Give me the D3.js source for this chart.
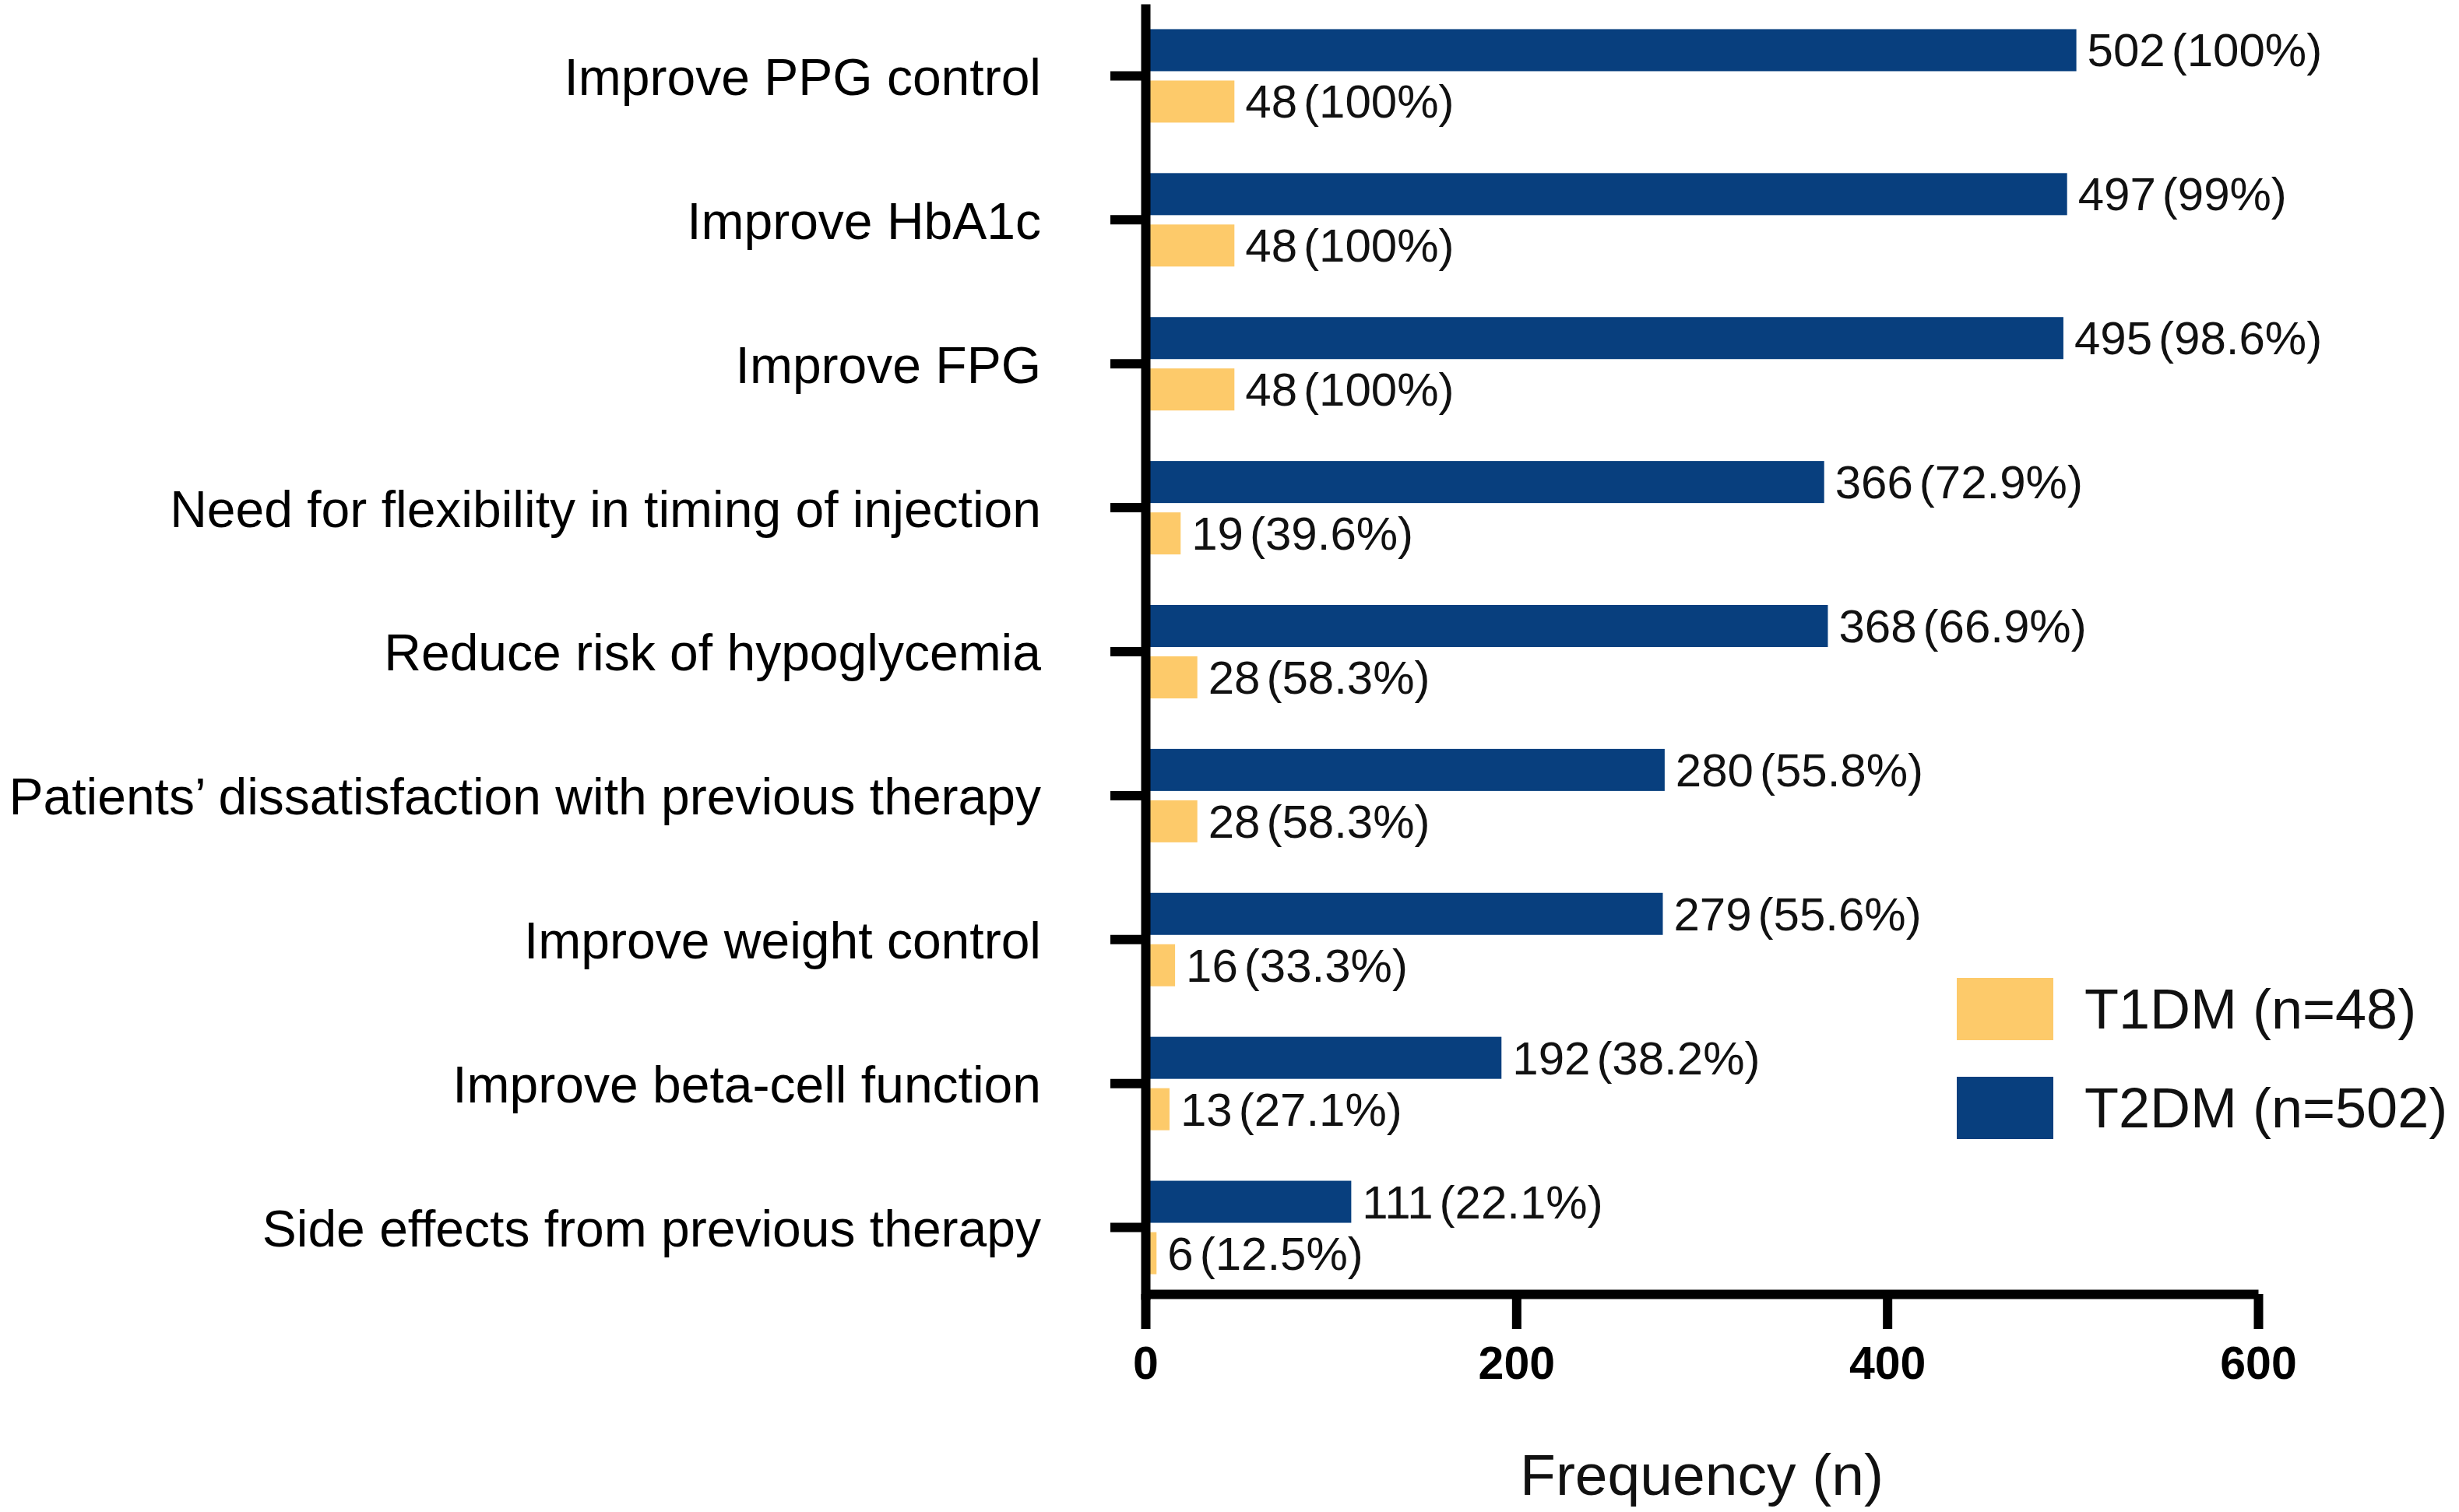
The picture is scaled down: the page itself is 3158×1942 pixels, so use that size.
<!DOCTYPE html>
<html>
<head>
<meta charset="utf-8">
<script src="https://cdn.jsdelivr.net/npm/d3@7"></script>
<style>
  body { margin: 0; background: #fff; }
  text { font-family: "Liberation Sans", Arial, sans-serif; }
</style>
</head>
<body>
<div id="chart"></div>
<script>
// categories top to bottom
var categories = [
  "Improve PPG control",
  "Improve HbA1c",
  "Improve FPG",
  "Need for flexibility in timing of injection",
  "Reduce risk of hypoglycemia",
  "Patients\u2019 dissatisfaction with previous therapy",
  "Improve weight control",
  "Improve beta-cell function",
  "Side effects from previous therapy"
];

var t2dmValues = [502, 497, 495, 366, 368, 280, 279, 192, 111];
var t2dmPct = ["100%", "99%", "98.6%", "72.9%", "66.9%", "55.8%", "55.6%", "38.2%", "22.1%"];
var t1dmValues = [48, 48, 48, 19, 28, 28, 16, 13, 6];
var t1dmPct = ["100%", "100%", "100%", "39.6%", "58.3%", "58.3%", "33.3%", "27.1%", "12.5%"];

var xTicks = [0, 200, 400, 600];
var seriesNames = ["T2DM", "T1DM"];
var legendLabels = ["T1DM (n=48)", "T2DM (n=502)"];

var width = 3158;
var height = 1942;

var colors = { T2DM: "#083f7e", T1DM: "#fdca6a" };

var svg = d3.select("#chart")
    .append("svg")
    .attr("width", width)
    .attr("height", height);

var x = d3.scaleLinear()
    .domain([0, 600])
    .range([1471, 2900]);

var y = d3.scaleBand()
    .domain(categories)
    .range([5, 1669])
    .padding(0);

// two bars inside every category band
var inner = d3.scaleBand()
    .domain(seriesNames)
    .range([y.bandwidth() / 2 - 60, y.bandwidth() / 2 + 60])
    .paddingInner(0.1818);

// build rows for drawing
var rows = [];
categories.forEach(function(c, i) {
  rows.push({ cat: c, series: "T2DM", value: t2dmValues[i], pct: t2dmPct[i] });
  rows.push({ cat: c, series: "T1DM", value: t1dmValues[i], pct: t1dmPct[i] });
});

var bars = svg.append("g");

bars.selectAll("rect")
    .data(rows)
    .enter()
    .append("rect")
    .attr("x", x(0))
    .attr("y", d => y(d.cat) + inner(d.series))
    .attr("width", d => x(d.value) - x(0))
    .attr("height", inner.bandwidth())
    .attr("fill", d => colors[d.series]);

var valueLabels = bars.selectAll("text")
    .data(rows)
    .enter()
    .append("text")
    .attr("x", d => x(d.value) + 14)
    .attr("y", d => y(d.cat) + inner(d.series) + inner.bandwidth() / 2)
    .attr("dy", "0.35em")
    .attr("font-size", 60)
    .attr("fill", "#111");

valueLabels.append("tspan").text(d => d.value);
valueLabels.append("tspan").attr("dx", 8).text(d => "(" + d.pct + ")");

// y axis
var yAxis = svg.append("g")
    .attr("transform", `translate(${x(0)},0)`)
    .call(d3.axisLeft(y).tickSize(45).tickSizeOuter(0).tickPadding(89));

yAxis.selectAll("text")
    .attr("font-size", 66)
    .attr("fill", "#000")
    .attr("dy", "0.37em");

// x axis
var xAxis = svg.append("g")
    .attr("transform", "translate(0,1662)")
    .call(d3.axisBottom(x).tickValues(xTicks).tickSize(45).tickSizeOuter(0).tickPadding(22));

xAxis.selectAll("text")
    .attr("font-size", 59)
    .attr("font-weight", "bold")
    .attr("fill", "#000");

svg.selectAll(".domain, .tick line")
    .attr("stroke", "#000")
    .attr("stroke-width", 12);

svg.append("text")
    .attr("x", (x(0) + x(600)) / 2)
    .attr("y", 1920)
    .attr("text-anchor", "middle")
    .attr("font-size", 75)
    .attr("fill", "#111")
    .text("Frequency (n)");

// legend
var legend = svg.append("g");
var legendKeys = ["T1DM", "T2DM"];

legend.selectAll("rect")
    .data(legendKeys)
    .enter()
    .append("rect")
    .attr("x", 2513)
    .attr("y", (d, i) => 1256 + i * 127)
    .attr("width", 124)
    .attr("height", 80)
    .attr("fill", d => colors[d]);

legend.selectAll("text")
    .data(legendLabels)
    .enter()
    .append("text")
    .attr("x", 2677)
    .attr("y", (d, i) => 1321 + i * 127)
    .attr("font-size", 72)
    .attr("fill", "#111")
    .text(d => d);
</script>
</body>
</html>
